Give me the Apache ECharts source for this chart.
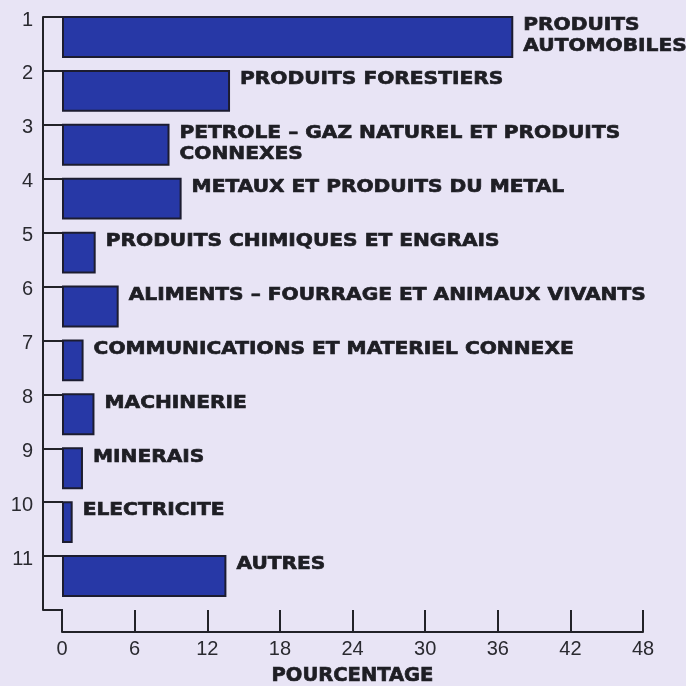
<!DOCTYPE html>
<html>
<head>
<meta charset="utf-8">
<script src="https://cdn.jsdelivr.net/npm/echarts@6/dist/echarts.min.js"></script>
<style>
html,body{margin:0;padding:0;background:#e8e4f5;}
#c{width:686px;height:686px;}
</style>
</head>
<body>
<div id="c"></div>
<script>
var categoryNumbers = ['1','2','3','4','5','6','7','8','9','10','11'];
var categoryNames = [
  'PRODUITS\nAUTOMOBILES',
  'PRODUITS FORESTIERS',
  'PETROLE \u2013 GAZ NATUREL ET PRODUITS\nCONNEXES',
  'METAUX ET PRODUITS DU METAL',
  'PRODUITS CHIMIQUES ET ENGRAIS',
  'ALIMENTS \u2013 FOURRAGE ET ANIMAUX VIVANTS',
  'COMMUNICATIONS ET MATERIEL CONNEXE',
  'MACHINERIE',
  'MINERAIS',
  'ELECTRICITE',
  'AUTRES'
];
var percentages = [37.2, 13.8, 8.8, 9.8, 2.7, 4.6, 1.7, 2.6, 1.65, 0.8, 13.5];
var xTicks = [0, 6, 12, 18, 24, 30, 36, 42, 48];
var axisTitle = 'POURCENTAGE';

var chart = echarts.init(document.getElementById('c'));
var ink = '#222228';
var data = percentages.map(function (v, i) { return [v, i]; });

chart.setOption({
  backgroundColor: '#e8e4f5',
  animation: false,
  grid: { left: 62, right: 43, top: 17, bottom: 76, outerBoundsMode: 'none', containLabel: false },
  xAxis: {
    type: 'value', min: xTicks[0], max: xTicks[xTicks.length - 1], interval: 6,
    offset: 22,
    axisLine: { show: true, onZero: false, lineStyle: { color: ink, width: 2 } },
    axisTick: { show: true, inside: true, length: 22, lineStyle: { color: ink, width: 2 } },
    axisLabel: { color: '#2a2a30', fontSize: 20, fontFamily: 'Liberation Sans', margin: 7 },
    splitLine: { show: false },
    name: axisTitle, nameLocation: 'middle', nameGap: 34,
    nameTextStyle: { color: '#1e1e24', fontSize: 19.5, fontWeight: 'bold', fontFamily: 'DejaVu Sans',
      textBorderColor: '#1e1e24', textBorderWidth: 0.7 }
  },
  yAxis: {
    type: 'value', inverse: true, min: 0, max: categoryNumbers.length, interval: 1,
    offset: 19,
    axisLine: { show: true, onZero: false, lineStyle: { color: ink, width: 2 } },
    axisTick: { show: true, inside: true, length: 20, lineStyle: { color: ink, width: 2 } },
    axisLabel: {
      color: '#2a2a30', fontSize: 20, fontFamily: 'Liberation Sans', margin: 10,
      verticalAlign: 'top', lineHeight: 6,
      formatter: function (v) { return v < categoryNumbers.length ? categoryNumbers[v] : ''; }
    },
    splitLine: { show: false }
  },
  series: [{
    type: 'custom',
    data: data,
    encode: { x: 0, y: 1 },
    renderItem: function (params, api) {
      var v = api.value(0), i = api.value(1);
      var p0 = api.coord([0, i]);
      var p1 = api.coord([v, i + 0.74]);
      return {
        type: 'group',
        children: [{
          type: 'rect',
          shape: { x: p0[0] + 1, y: p0[1], width: p1[0] - p0[0] - 1, height: p1[1] - p0[1] },
          style: { fill: '#2738a6', stroke: '#1c1c30', lineWidth: 2 }
        }, {
          type: 'text',
          x: p1[0] + 11, y: p0[1] - 2,
          scaleX: 1.09,
          style: {
            text: categoryNames[i],
            fill: '#1e1e24',
            stroke: '#1e1e24',
            lineWidth: 0.7,
            font: 'bold 18.5px "DejaVu Sans"',
            lineHeight: 21,
            verticalAlign: 'top', align: 'left'
          }
        }]
      };
    }
  }]
});
</script>
</body>
</html>
